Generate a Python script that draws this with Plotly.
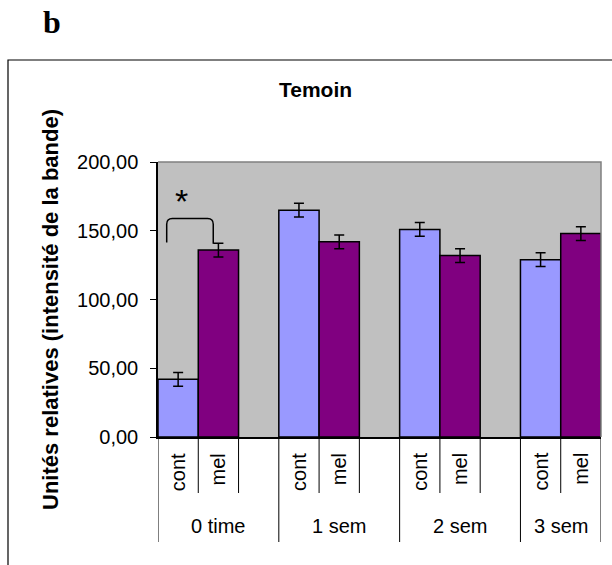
import plotly.graph_objects as go

groups = ["0 time", "1 sem", "2 sem", "3 sem"]
subcats = ["cont", "mel"]
cont_vals = [42, 165, 151, 129]
mel_vals = [136, 142, 132, 148]
cont_err = [5, 5, 5, 5]
mel_err = [5, 5, 5, 5]
y_ticks = [0, 50, 100, 150, 200]
y_tick_labels = ["0,00", "50,00", "100,00", "150,00", "200,00"]

title = "Temoin"
y_title = "Unités relatives (intensité de la bande)"

# slot layout: cont, mel, blank per group (last group has no blank)
cont_x = [3 * i for i in range(len(groups))]
mel_x = [3 * i + 1 for i in range(len(groups))]
n_slots = 3 * len(groups) - 1

W, H = 612, 565
L, R, T, B = 158, 11, 162, 128
PW, PH = W - L - R, H - T - B
FONT = "Liberation Sans, Arial, sans-serif"


def px_x(px):
    return (px - L) / PW


def px_y(py):
    return (H - B - py) / PH


fig = go.Figure()
fig.add_trace(go.Bar(
    x=cont_x, y=cont_vals, width=1, name="cont",
    marker=dict(color="#9999FF", line=dict(color="black", width=1.5)),
    error_y=dict(type="data", array=cont_err, color="black", thickness=1.5, width=5),
))
fig.add_trace(go.Bar(
    x=mel_x, y=mel_vals, width=1, name="mel",
    marker=dict(color="#800080", line=dict(color="black", width=1.5)),
    error_y=dict(type="data", array=mel_err, color="black", thickness=1.5, width=5),
))

shapes = []
annotations = []

# outer frame
shapes.append(dict(type="rect", xref="paper", yref="paper",
                   x0=px_x(8), x1=px_x(W + 20), y0=px_y(H + 20), y1=px_y(60),
                   line=dict(color="black", width=1.2), fillcolor="rgba(0,0,0,0)", layer="below"))

# top/right gray border of plot area
shapes.append(dict(type="path", xref="paper", yref="paper",
                   path="M 0,1 L 1,1 L 1,0", line=dict(color="#808080", width=1.5)))

# category dividers and labels
for s in range(n_slots + 1):
    xb = s - 0.5
    is_long = (s % 3 == 0) or s == n_slots
    shapes.append(dict(type="line", xref="x", yref="paper", x0=xb, x1=xb,
                       y0=0, y1=px_y(542) if is_long else px_y(493),
                       line=dict(color="black", width=1)))

for gi, g in enumerate(groups):
    for si, sc in enumerate(subcats):
        annotations.append(dict(x=3 * gi + si, y=px_y(451), xref="x", yref="paper",
                                xanchor="center", yanchor="top",
                                text=sc, showarrow=False, textangle=-90,
                                font=dict(family=FONT, size=20, color="black")))
    g_end = min(3 * gi + 2, n_slots - 1)
    annotations.append(dict(x=(3 * gi + g_end) / 2, y=px_y(526), xref="x", yref="paper",
                            xanchor="center", yanchor="middle",
                            text=g, showarrow=False,
                            font=dict(family=FONT, size=20, color="black")))

# significance bracket between cont and mel of group 0
xl = cont_x[0] - 0.284
xr = mel_x[0] - 0.128
yb_l = 141.5
yb_r = 140.5
ytop = 159
rx, ry = 0.14, 4.2
shapes.append(dict(type="path", xref="x", yref="y",
                   path=f"M {xl},{yb_l} L {xl},{ytop-ry} Q {xl},{ytop} {xl+rx},{ytop} "
                        f"L {xr-rx},{ytop} Q {xr},{ytop} {xr},{ytop-ry} L {xr},{yb_r}",
                   line=dict(color="black", width=1.5)))
annotations.append(dict(x=0.08, y=172, xref="x", yref="y", text="*",
                        xanchor="center", yanchor="middle",
                        showarrow=False, font=dict(family=FONT, size=34, color="black")))

# panel letter
annotations.append(dict(x=px_x(52), y=px_y(22), xanchor="center", yanchor="middle",
                        xref="paper", yref="paper", text="<b>b</b>", showarrow=False,
                        font=dict(family="Liberation Serif, Times New Roman, serif", size=32, color="black")))
# title
annotations.append(dict(x=px_x(315), y=px_y(89), xanchor="center", yanchor="middle",
                        xref="paper", yref="paper", text=f"<b>{title}</b>", showarrow=False,
                        font=dict(family=FONT, size=21, color="black")))
# y title
annotations.append(dict(x=px_x(50), y=px_y(310), xanchor="center", yanchor="middle",
                        xref="paper", yref="paper", text=f"<b>{y_title}</b>", showarrow=False,
                        textangle=-90,
                        font=dict(family=FONT, size=22, color="black")))

fig.update_layout(
    width=W, height=H,
    margin=dict(l=L, r=R, t=T, b=B),
    paper_bgcolor="white", plot_bgcolor="#C0C0C0",
    showlegend=False, barmode="overlay",
    shapes=shapes, annotations=annotations,
    font=dict(family=FONT, size=20, color="black"),
)
fig.update_xaxes(range=[-0.5, n_slots - 0.5], showticklabels=False, ticks="",
                 showgrid=False, zeroline=False, showline=True, linecolor="black", linewidth=1.5)
fig.update_yaxes(range=[0, 200], tickvals=y_ticks, ticktext=y_tick_labels,
                 ticks="outside", ticklen=6, tickcolor="black", tickwidth=1.2,
                 showgrid=False, zeroline=False, ticklabelstandoff=8,
                 showline=True, linecolor="black", linewidth=1.5,
                 tickfont=dict(family=FONT, size=20, color="black"))

fig.write_html("out.html")
